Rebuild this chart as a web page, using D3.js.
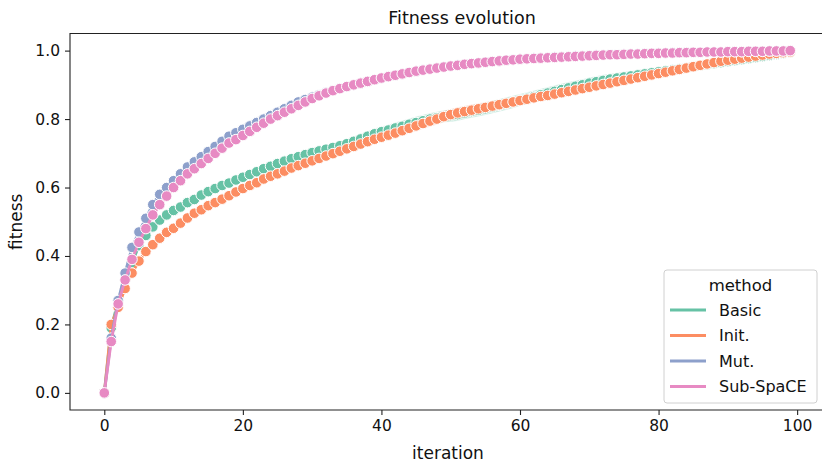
<!DOCTYPE html>
<html>
<head>
<meta charset="utf-8">
<script src="https://cdn.jsdelivr.net/npm/d3@7"></script>
<style>
  html, body { margin: 0; padding: 0; background: #fff; }
  svg { display: block; font-family: "DejaVu Sans", sans-serif; }
</style>
</head>
<body>
<svg id="chart" width="822" height="462"></svg>
<script>
// Mean fitness per iteration for each method
const iterations = d3.range(100);

const basic = [
  0, 0.19, 0.27, 0.33, 0.38, 0.43, 0.46, 0.485, 0.505, 0.52,
  0.533, 0.543, 0.556, 0.565, 0.578, 0.588, 0.597, 0.606, 0.613, 0.622,
  0.63, 0.638, 0.646, 0.655, 0.662, 0.67, 0.677, 0.684, 0.69, 0.696,
  0.702, 0.707, 0.712, 0.717, 0.722, 0.728, 0.735, 0.742, 0.75, 0.757,
  0.763, 0.768, 0.774, 0.779, 0.785, 0.79, 0.795, 0.80, 0.804, 0.808,
  0.81, 0.813, 0.818, 0.822, 0.826, 0.83, 0.835, 0.84, 0.845, 0.85,
  0.856, 0.861, 0.866, 0.871, 0.876, 0.881, 0.886, 0.891, 0.896, 0.90,
  0.905, 0.909, 0.913, 0.917, 0.92, 0.923, 0.926, 0.929, 0.932, 0.935,
  0.938, 0.941, 0.944, 0.947, 0.95, 0.953, 0.956, 0.959, 0.962, 0.965,
  0.968, 0.971, 0.974, 0.977, 0.98, 0.983, 0.986, 0.989, 0.992, 0.995
];

const init = [
  0, 0.20, 0.25, 0.305, 0.35, 0.385, 0.413, 0.433, 0.452, 0.469,
  0.481, 0.496, 0.511, 0.525, 0.535, 0.547, 0.556, 0.566, 0.576, 0.587,
  0.597, 0.606, 0.614, 0.625, 0.633, 0.64, 0.648, 0.657, 0.664, 0.671,
  0.678, 0.685, 0.692, 0.699, 0.706, 0.713, 0.72, 0.727, 0.734, 0.741,
  0.747, 0.753, 0.759, 0.766, 0.773, 0.78, 0.787, 0.794, 0.80, 0.807,
  0.813, 0.818, 0.822, 0.826, 0.83, 0.834, 0.838, 0.842, 0.846, 0.85,
  0.854, 0.858, 0.862, 0.866, 0.869, 0.873, 0.877, 0.881, 0.885, 0.889,
  0.893, 0.897, 0.901, 0.905, 0.909, 0.913, 0.917, 0.921, 0.925, 0.929,
  0.933, 0.937, 0.941, 0.945, 0.949, 0.953, 0.957, 0.961, 0.965, 0.969,
  0.972, 0.975, 0.978, 0.981, 0.984, 0.987, 0.99, 0.992, 0.994, 0.996
];

const mut = [
  0, 0.16, 0.27, 0.35, 0.425, 0.47, 0.51, 0.55, 0.58, 0.60,
  0.62, 0.64, 0.66, 0.675, 0.69, 0.705, 0.72, 0.735, 0.75, 0.76,
  0.77, 0.78, 0.79, 0.80, 0.81, 0.82, 0.83, 0.84, 0.85, 0.857,
  0.864, 0.871, 0.878, 0.884, 0.89, 0.895, 0.90, 0.905, 0.91, 0.915,
  0.92, 0.924, 0.928, 0.932, 0.936, 0.94, 0.944, 0.947, 0.95, 0.953,
  0.955, 0.958, 0.96, 0.962, 0.964, 0.966, 0.968, 0.97, 0.972, 0.974,
  0.975, 0.977, 0.978, 0.979, 0.98, 0.981, 0.982, 0.983, 0.984, 0.985,
  0.986, 0.987, 0.988, 0.989, 0.989, 0.99, 0.991, 0.991, 0.992, 0.992,
  0.993, 0.993, 0.994, 0.994, 0.995, 0.995, 0.995, 0.996, 0.996, 0.996,
  0.997, 0.997, 0.997, 0.998, 0.998, 0.998, 0.999, 0.999, 0.999, 1.0
];

const subSpace = [
  0, 0.15, 0.26, 0.33, 0.39, 0.44, 0.48, 0.52, 0.55, 0.575,
  0.60, 0.62, 0.64, 0.655, 0.67, 0.685, 0.70, 0.715, 0.73, 0.74,
  0.752, 0.764, 0.776, 0.788, 0.80, 0.81, 0.82, 0.83, 0.84, 0.85,
  0.86, 0.868, 0.876, 0.883, 0.889, 0.895, 0.90, 0.905, 0.91, 0.915,
  0.92, 0.924, 0.928, 0.932, 0.936, 0.94, 0.943, 0.946, 0.949, 0.952,
  0.955, 0.957, 0.96, 0.962, 0.964, 0.966, 0.968, 0.97, 0.972, 0.973,
  0.975, 0.976, 0.977, 0.978, 0.979, 0.98, 0.981, 0.982, 0.983, 0.984,
  0.985, 0.986, 0.987, 0.988, 0.988, 0.989, 0.99, 0.99, 0.991, 0.992,
  0.992, 0.993, 0.993, 0.994, 0.994, 0.995, 0.995, 0.996, 0.996, 0.996,
  0.997, 0.997, 0.997, 0.998, 0.998, 0.998, 0.999, 0.999, 0.999, 1.0
];

// half-width of the confidence band around each mean
const basicCI = [
  0, 0.006, 0.008, 0.008, 0.008, 0.008, 0.008, 0.008, 0.008, 0.008,
  0.008, 0.008, 0.008, 0.008, 0.008, 0.008, 0.008, 0.008, 0.008, 0.008,
  0.009, 0.009, 0.009, 0.009, 0.010, 0.010, 0.010, 0.010, 0.010, 0.010,
  0.011, 0.011, 0.011, 0.012, 0.012, 0.012, 0.013, 0.013, 0.013, 0.014,
  0.014, 0.014, 0.015, 0.015, 0.015, 0.016, 0.016, 0.016, 0.016, 0.016,
  0.017, 0.017, 0.017, 0.017, 0.017, 0.017, 0.017, 0.017, 0.017, 0.017,
  0.016, 0.016, 0.016, 0.016, 0.016, 0.016, 0.016, 0.016, 0.015, 0.015,
  0.015, 0.015, 0.015, 0.014, 0.014, 0.014, 0.013, 0.013, 0.013, 0.012,
  0.012, 0.012, 0.011, 0.011, 0.011, 0.010, 0.010, 0.010, 0.009, 0.009,
  0.008, 0.008, 0.007, 0.007, 0.006, 0.006, 0.005, 0.005, 0.004, 0.004
];

const initCI = [
  0, 0.006, 0.008, 0.008, 0.008, 0.008, 0.008, 0.008, 0.008, 0.008,
  0.008, 0.008, 0.008, 0.008, 0.008, 0.008, 0.008, 0.008, 0.008, 0.008,
  0.008, 0.008, 0.008, 0.009, 0.009, 0.009, 0.009, 0.009, 0.010, 0.010,
  0.010, 0.010, 0.010, 0.011, 0.011, 0.011, 0.011, 0.012, 0.012, 0.012,
  0.012, 0.013, 0.013, 0.013, 0.014, 0.014, 0.014, 0.015, 0.015, 0.015,
  0.015, 0.015, 0.015, 0.015, 0.015, 0.014, 0.014, 0.014, 0.013, 0.013,
  0.013, 0.013, 0.012, 0.012, 0.012, 0.012, 0.012, 0.012, 0.012, 0.012,
  0.012, 0.012, 0.012, 0.012, 0.012, 0.012, 0.012, 0.012, 0.012, 0.012,
  0.012, 0.012, 0.013, 0.013, 0.013, 0.013, 0.013, 0.013, 0.012, 0.012,
  0.011, 0.010, 0.009, 0.008, 0.007, 0.006, 0.005, 0.005, 0.004, 0.004
];

const mutCI = [
  0, 0.006, 0.008, 0.008, 0.008, 0.008, 0.008, 0.008, 0.008, 0.008,
  0.008, 0.009, 0.009, 0.010, 0.010, 0.011, 0.012, 0.012, 0.013, 0.013,
  0.014, 0.014, 0.014, 0.014, 0.014, 0.014, 0.014, 0.013, 0.013, 0.013,
  0.012, 0.012, 0.012, 0.011, 0.011, 0.011, 0.010, 0.010, 0.010, 0.010,
  0.009, 0.009, 0.009, 0.009, 0.009, 0.009, 0.008, 0.008, 0.008, 0.008,
  0.008, 0.008, 0.008, 0.008, 0.007, 0.007, 0.007, 0.007, 0.007, 0.007,
  0.006, 0.006, 0.006, 0.006, 0.006, 0.006, 0.005, 0.005, 0.005, 0.005,
  0.005, 0.005, 0.004, 0.004, 0.004, 0.004, 0.004, 0.004, 0.004, 0.003,
  0.003, 0.003, 0.003, 0.003, 0.003, 0.003, 0.003, 0.002, 0.002, 0.002,
  0.002, 0.002, 0.002, 0.002, 0.001, 0.001, 0.001, 0.001, 0.001, 0
];

const subSpaceCI = [
  0, 0.006, 0.008, 0.008, 0.008, 0.008, 0.008, 0.008, 0.008, 0.008,
  0.008, 0.008, 0.008, 0.008, 0.008, 0.008, 0.008, 0.008, 0.008, 0.008,
  0.008, 0.008, 0.008, 0.008, 0.008, 0.008, 0.008, 0.008, 0.008, 0.008,
  0.008, 0.008, 0.008, 0.008, 0.008, 0.008, 0.008, 0.008, 0.008, 0.008,
  0.008, 0.008, 0.007, 0.007, 0.007, 0.007, 0.007, 0.007, 0.007, 0.007,
  0.007, 0.007, 0.007, 0.006, 0.006, 0.006, 0.006, 0.006, 0.006, 0.006,
  0.006, 0.006, 0.005, 0.005, 0.005, 0.005, 0.005, 0.005, 0.005, 0.005,
  0.004, 0.004, 0.004, 0.004, 0.004, 0.004, 0.004, 0.003, 0.003, 0.003,
  0.003, 0.003, 0.003, 0.003, 0.003, 0.002, 0.002, 0.002, 0.002, 0.002,
  0.002, 0.002, 0.002, 0.001, 0.001, 0.001, 0.001, 0.001, 0.001, 0
];

const methods = ["Basic", "Init.", "Mut.", "Sub-SpaCE"];
const colors = ["#66c2a5", "#fc8d62", "#8da0cb", "#e78ac3"];
const xTicks = [0, 20, 40, 60, 80, 100];
const yTicks = [0.0, 0.2, 0.4, 0.6, 0.8, 1.0];

const seriesValues = [basic, init, mut, subSpace];
const seriesCI = [basicCI, initCI, mutCI, subSpaceCI];
const series = methods.map((name, k) => ({
  name,
  color: colors[k],
  points: iterations.map((it, j) => ({
    x: it,
    y: seriesValues[k][j],
    lo: seriesValues[k][j] - seriesCI[k][j],
    hi: seriesValues[k][j] + seriesCI[k][j]
  }))
}));

const svg = d3.select("#chart");
const plot = { left: 70, top: 33.5, right: 824.5, bottom: 410 };

// axis limits padded 5% around the data range
const xScale = d3.scaleLinear().domain([-4.95, 103.95]).range([plot.left, plot.right]);
const yScale = d3.scaleLinear().domain([-0.05, 1.05]).range([plot.bottom, plot.top]);

const g = svg.append("g");

const line = d3.line().x(d => xScale(d.x)).y(d => yScale(d.y));
const band = d3.area().x(d => xScale(d.x)).y0(d => yScale(d.lo)).y1(d => yScale(d.hi));

// each method: translucent band, then line with circular markers
series.forEach(s => {
  const grp = g.append("g");
  grp.append("path")
    .datum(s.points)
    .attr("d", band)
    .attr("fill", s.color)
    .attr("fill-opacity", 0.2)
    .attr("stroke", s.color)
    .attr("stroke-opacity", 0.2)
    .attr("stroke-width", 1);
  grp.append("path")
    .datum(s.points)
    .attr("d", line)
    .attr("fill", "none")
    .attr("stroke", s.color)
    .attr("stroke-width", 2.8)
    .attr("stroke-linejoin", "round")
    .attr("stroke-linecap", "round");
  grp.selectAll("circle")
    .data(s.points)
    .join("circle")
    .attr("cx", d => xScale(d.x))
    .attr("cy", d => yScale(d.y))
    .attr("r", 5.3)
    .attr("fill", s.color)
    .attr("stroke", "#fff")
    .attr("stroke-width", 1.0);
});

// axes
const tickFont = "15.5px";
const xAxis = d3.axisBottom(xScale).tickValues(xTicks).tickFormat(d3.format("d")).tickSize(5).tickPadding(5);
const yAxis = d3.axisLeft(yScale).tickValues(yTicks).tickFormat(d3.format(".1f")).tickSize(5).tickPadding(5);

const gx = svg.append("g").attr("transform", `translate(0,${plot.bottom})`).call(xAxis);
const gy = svg.append("g").attr("transform", `translate(${plot.left},0)`).call(yAxis);
[gx, gy].forEach(ax => {
  ax.select(".domain").remove();
  ax.selectAll(".tick line").attr("stroke", "#222").attr("stroke-width", 1.1);
  ax.selectAll(".tick text")
    .attr("fill", "#111")
    .style("font-size", tickFont)
    .style("font-family", "DejaVu Sans, sans-serif");
});

// frame (left, bottom and top spines)
svg.append("path")
  .attr("d", `M${plot.right},${plot.top}H${plot.left}V${plot.bottom}H${plot.right}`)
  .attr("fill", "none")
  .attr("stroke", "#222")
  .attr("stroke-width", 1.1);

// title and axis labels
svg.append("text")
  .attr("x", 462)
  .attr("y", 24)
  .attr("text-anchor", "middle")
  .style("font-size", "17.5px")
  .attr("fill", "#111")
  .text("Fitness evolution");

svg.append("text")
  .attr("x", 448)
  .attr("y", 459)
  .attr("text-anchor", "middle")
  .style("font-size", "17px")
  .attr("fill", "#111")
  .text("iteration");

svg.append("text")
  .attr("transform", `translate(22,${(plot.top + plot.bottom) / 2}) rotate(-90)`)
  .attr("text-anchor", "middle")
  .style("font-size", "17px")
  .attr("fill", "#111")
  .text("fitness");

// legend
const legend = svg.append("g").attr("transform", "translate(664,270)");
legend.append("rect")
  .attr("width", 153)
  .attr("height", 133)
  .attr("rx", 3)
  .attr("fill", "#fff")
  .attr("fill-opacity", 0.8)
  .attr("stroke", "#d0d0d0")
  .attr("stroke-width", 1);
legend.append("text")
  .attr("x", 76.5)
  .attr("y", 21)
  .attr("text-anchor", "middle")
  .style("font-size", "16.5px")
  .attr("fill", "#111")
  .text("method");
series.forEach((s, k) => {
  const yy = 40 + k * 25.5;
  legend.append("line")
    .attr("x1", 6).attr("x2", 42)
    .attr("y1", yy).attr("y2", yy)
    .attr("stroke", s.color)
    .attr("stroke-width", 2.8);
  legend.append("text")
    .attr("x", 55)
    .attr("y", yy + 5.5)
    .style("font-size", "16px")
    .attr("fill", "#111")
    .text(s.name);
});
</script>
</body>
</html>
